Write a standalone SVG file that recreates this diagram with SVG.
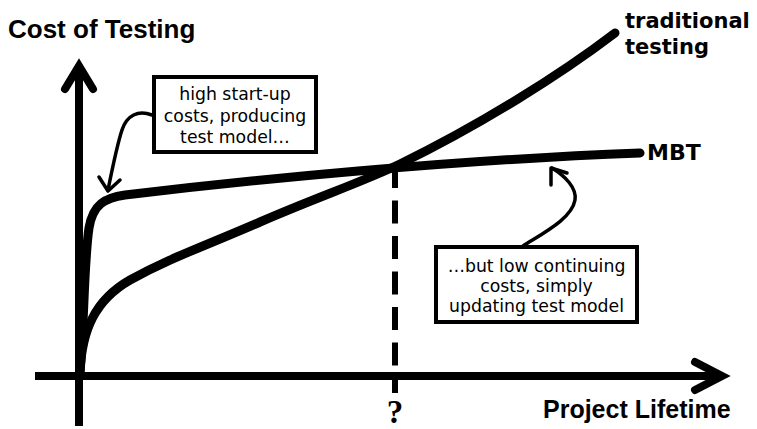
<svg xmlns="http://www.w3.org/2000/svg" width="757" height="429" viewBox="0 0 757 429">
  <style>
    .axis { fill: none; stroke: #000; stroke-width: 8; }
    .curve { fill: none; stroke: #000; stroke-width: 9; stroke-linecap: round; stroke-linejoin: round; }
    .pointer { fill: none; stroke: #000; stroke-width: 3.5; stroke-linecap: round; stroke-linejoin: round; }
    .box { fill: #fff; stroke: #000; stroke-width: 4; }
    .note { font-family: "DejaVu Sans", Verdana, sans-serif; font-size: 17.3px; fill: #000; text-anchor: middle; }
    .title { font-family: "Liberation Sans", Arial, sans-serif; font-weight: bold; fill: #000; }
    .series { font-family: "DejaVu Sans", "Comic Sans MS", sans-serif; font-weight: bold; fill: #000; }
  </style>

  <rect width="757" height="429" fill="#fff"/>

  <!-- axes -->
  <g id="axes">
    <path class="axis" d="M79,426 V70"/>
    <path class="axis" d="M65,89 L79,66 L93,89" stroke-linecap="round" stroke-linejoin="miter"/>
    <path class="axis" d="M35,376 H718" stroke-width="7.5"/>
    <path class="axis" d="M695,362 L722,376 L695,390" stroke-linecap="round" stroke-linejoin="miter"/>
    <text class="title" x="8" y="38" font-size="26">Cost of Testing</text>
    <text class="title" x="543" y="418" font-size="25">Project Lifetime</text>
  </g>

  <!-- break-even marker -->
  <g id="break-even">
    <path d="M395,165 V393" fill="none" stroke="#000" stroke-width="6" stroke-dasharray="23 12.5"/>
    <text x="395" y="423" font-family="'Liberation Serif', 'Times New Roman', serif" font-weight="bold" font-size="33" text-anchor="middle">?</text>
  </g>

  <!-- cost curves -->
  <g id="traditional-testing">
    <path class="curve" d="M80,372 C82,330 95,300 130,280 C170,258 200,248 260,222 C320,196 360,183 400,164 C480,125 560,75 615,33"/>
    <text class="series" x="625" y="28" font-size="21">traditional</text>
    <text class="series" x="625" y="54" font-size="21">testing</text>
  </g>

  <g id="mbt">
    <path class="curve" d="M80,372 C84,330 84,260 89,228 C93,204 105,198 125,195 C250,180 450,160 640,153"/>
    <text class="series" x="647" y="160" font-size="22">MBT</text>
  </g>

  <!-- callouts -->
  <g id="callout-startup">
    <rect class="box" x="154" y="77" width="162" height="75"/>
    <text class="note" x="235" y="100">high start-up</text>
    <text class="note" x="235" y="122">costs, producing</text>
    <text class="note" x="235" y="143">test model…</text>
  </g>

  <g id="callout-continuing">
    <rect class="box" x="436" y="247" width="201" height="75"/>
    <text class="note" x="536.5" y="272">…but low continuing</text>
    <text class="note" x="536.5" y="292">costs, simply</text>
    <text class="note" x="536.5" y="312">updating test model</text>
  </g>

  <g id="connectors">
    <path class="pointer" d="M152,115 C138,110 127,115 122,130 C117,145 112,170 108,190"/>
    <path class="pointer" d="M99,177 L108,191 L120,180"/>
    <path class="pointer" d="M523,246 C545,232 572,218 575,200 C577,188 565,176 552,168"/>
    <path class="pointer" d="M551,185 L551,168 L567,173"/>
  </g>
</svg>
